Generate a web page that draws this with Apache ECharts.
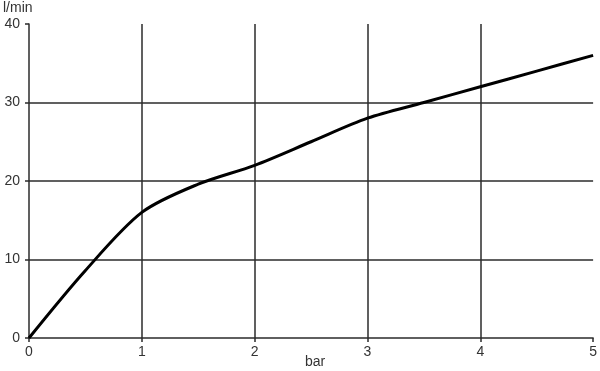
<!DOCTYPE html>
<html>
<head>
<meta charset="utf-8">
<script src="https://cdn.jsdelivr.net/npm/echarts@6/dist/echarts.min.js"></script>
<style>html,body{margin:0;padding:0;background:#fff}#c{width:600px;height:371px}</style>
</head>
<body>
<div id="c"></div>
<script>
const pressure = [0, 0.5, 1, 1.5, 2, 2.5, 3, 3.5, 4, 4.5, 5];
const flow = [0, 8.6, 16, 19.6, 22, 25, 28, 30, 32, 34, 36];
const xTicks = [0, 1, 2, 3, 4, 5];
const yTicks = [0, 10, 20, 30, 40];
const yUnit = 'l/min';
const xUnit = 'bar';

const chart = echarts.init(document.getElementById('c'));
const lineColor = '#2b2b2b';
const font = 'Liberation Sans, Arial';
chart.setOption({
  animation: false,
  grid: {left: 29, right: 6, top: 24, bottom: 33},
  xAxis: {
    type: 'value', min: xTicks[0], max: xTicks[xTicks.length - 1], interval: 1,
    axisLine: {show: true, lineStyle: {color: lineColor, width: 1.5}},
    axisTick: {show: true, length: 4, lineStyle: {color: lineColor, width: 1.5}},
    axisLabel: {color: '#333', fontSize: 14, fontFamily: font, margin: 7},
    splitLine: {show: true, showMinLine: false, showMaxLine: false, lineStyle: {color: lineColor, width: 1.5}}
  },
  yAxis: {
    type: 'value', min: yTicks[0], max: yTicks[yTicks.length - 1], interval: 10,
    axisLine: {show: true, lineStyle: {color: lineColor, width: 1.5}},
    axisTick: {show: true, length: 4, lineStyle: {color: lineColor, width: 1.5}},
    axisLabel: {color: '#333', fontSize: 14, fontFamily: font, margin: 9},
    splitLine: {show: true, showMinLine: false, showMaxLine: false, lineStyle: {color: lineColor, width: 1.5}}
  },
  graphic: [
    {type: 'text', left: 3, top: 1, style: {text: yUnit, fill: '#333', font: '14px ' + font}},
    {type: 'text', left: 305, top: 355, style: {text: xUnit, fill: '#333', font: '14px ' + font}}
  ],
  series: [{
    type: 'line',
    data: pressure.map((p, i) => [p, flow[i]]),
    smooth: 0.3,
    showSymbol: false,
    lineStyle: {color: '#000', width: 3}
  }]
});
</script>
</body>
</html>
